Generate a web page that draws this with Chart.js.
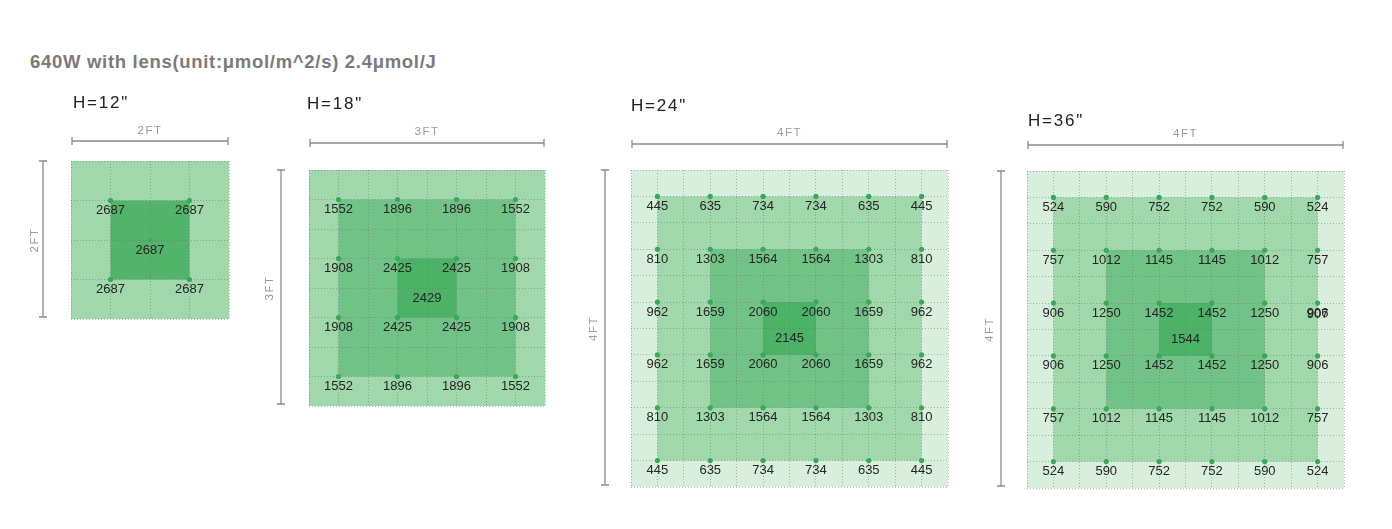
<!DOCTYPE html>
<html>
<head>
<meta charset="utf-8">
<script src="https://cdn.jsdelivr.net/npm/chart.js@4.4.1/dist/chart.umd.min.js"></script>
<style>
  body { margin: 0; width: 1392px; height: 529px; background: #fff; position: relative; overflow: hidden;
         font-family: "Liberation Sans", Arial, sans-serif; }
  #mainTitle { position: absolute; left: 30px; top: 51px; font-size: 18.5px; letter-spacing: 0.7px; font-weight: bold; color: #7a7a7a; white-space: nowrap; }
  .panel { position: absolute; }
</style>
</head>
<body>
<div id="mainTitle">640W with lens(unit:μmol/m^2/s) 2.4μmol/J</div>
<div class="panel" id="w12"><canvas id="c12"></canvas></div>
<div class="panel" id="w18"><canvas id="c18"></canvas></div>
<div class="panel" id="w24"><canvas id="c24"></canvas></div>
<div class="panel" id="w36"><canvas id="c36"></canvas></div>
<script>
// measuring points (grid cell index) and readings per height
const p12Positions = [1, 3];
const p12Values = [
  [2687, 2687],
  [2687, 2687],
];
const p12Center = 2687;

const p18Positions = [1, 3, 5, 7];
const p18Values = [
  [1552, 1896, 1896, 1552],
  [1908, 2425, 2425, 1908],
  [1908, 2425, 2425, 1908],
  [1552, 1896, 1896, 1552],
];
const p18Center = 2429;

const p24Positions = [1, 3, 5, 7, 9, 11];
const p24Values = [
  [445, 635, 734, 734, 635, 445],
  [810, 1303, 1564, 1564, 1303, 810],
  [962, 1659, 2060, 2060, 1659, 962],
  [962, 1659, 2060, 2060, 1659, 962],
  [810, 1303, 1564, 1564, 1303, 810],
  [445, 635, 734, 734, 635, 445],
];
const p24Center = 2145;

const p36Positions = [1, 3, 5, 7, 9, 11];
const p36Values = [
  [524, 590, 752, 752, 590, 524],
  [757, 1012, 1145, 1145, 1012, 757],
  [906, 1250, 1452, 1452, 1250, 906],
  [906, 1250, 1452, 1452, 1250, 906],
  [757, 1012, 1145, 1145, 1012, 757],
  [524, 590, 752, 752, 590, 524],
];
const p36Center = 1544;
const p36Extra = [{ row: 2, col: 5, value: 907 }]; // overlapping label in the source

const panels = [
  { id: '12', title: 'H=12"', span: '2FT', cells: 4, positions: p12Positions, values: p12Values, center: p12Center,
    centerDot: true, extra: [], box: [71, 161, 158],
    colors: ['#a0d7ab', '#52b46b'],
    off: { title: [2, 58], hLine: 20, hText: 30, vLine: 28, vText: 36 } },
  { id: '18', title: 'H=18"', span: '3FT', cells: 8, positions: p18Positions, values: p18Values, center: p18Center,
    centerDot: false, extra: [], box: [309, 170, 236],
    colors: ['#a0d7ab', '#70c286', '#4cb267'],
    off: { title: [-2, 66], hLine: 27, hText: 38, vLine: 28, vText: 39 } },
  { id: '24', title: 'H=24"', span: '4FT', cells: 12, positions: p24Positions, values: p24Values, center: p24Center,
    centerDot: false, extra: [], box: [631, 170, 317],
    colors: ['#d9efdd', '#a0d7ab', '#70c286', '#4cb267'],
    off: { title: [0, 64], hLine: 26, hText: 37, vLine: 26, vText: 37 } },
  { id: '36', title: 'H=36"', span: '4FT', cells: 12, positions: p36Positions, values: p36Values, center: p36Center,
    centerDot: false, extra: p36Extra, box: [1027, 171, 317],
    colors: ['#d9efdd', '#a0d7ab', '#70c286', '#4cb267'],
    off: { title: [1, 50], hLine: 26, hText: 37, vLine: 26, vText: 37 } },
];

const FONT = '"Liberation Sans", Arial, sans-serif';
const PAD_L = 60, PAD_T_ABS = 80, PAD_R = 10, PAD_B = 12;

// fills under the grid, labels and dimension marks on top
const mapPlugin = {
  id: 'ppfdMap',
  beforeDraw(chart) {
    const p = chart.options.plugins.ppfdMap.panel;
    const { ctx } = chart;
    const xs = chart.scales.x, ys = chart.scales.y;
    const n = p.positions.length;
    const layers = [[0, p.cells]];
    for (let k = 0; k < n / 2; k++) layers.push([p.positions[k], p.positions[n - 1 - k]]);
    ctx.save();
    layers.forEach((l, i) => {
      const x0 = xs.getPixelForValue(l[0]), x1 = xs.getPixelForValue(l[1]);
      const y0 = ys.getPixelForValue(l[0]), y1 = ys.getPixelForValue(l[1]);
      ctx.fillStyle = p.colors[i];
      ctx.fillRect(Math.min(x0, x1), Math.min(y0, y1), Math.abs(x1 - x0), Math.abs(y1 - y0));
    });
    ctx.restore();
  },
  afterDatasetsDraw(chart) {
    const p = chart.options.plugins.ppfdMap.panel;
    const { ctx, chartArea: ca } = chart;
    const meta = chart.getDatasetMeta(0);
    ctx.save();
    ctx.font = '13px ' + FONT;
    ctx.fillStyle = '#252525';
    ctx.textAlign = 'center';
    ctx.textBaseline = 'middle';
    meta.data.forEach((pt, i) => {
      const raw = chart.data.datasets[0].data[i];
      ctx.fillText(String(raw.v), pt.x, pt.y + 10);
    });
    const xs = chart.scales.x, ys = chart.scales.y;
    p.extra.forEach(e => {
      ctx.fillText(String(e.value), xs.getPixelForValue(p.positions[e.col]), ys.getPixelForValue(p.positions[e.row]) + 11);
    });
    const mid = p.cells / 2;
    ctx.fillText(String(p.center), xs.getPixelForValue(mid), ys.getPixelForValue(mid) + 10);

    // panel title
    ctx.textAlign = 'left';
    ctx.fillStyle = '#222';
    ctx.font = '17px ' + FONT;
    ctx.letterSpacing = '1.8px';
    ctx.fillText(p.title, ca.left + p.off.title[0], ca.top - p.off.title[1]);

    // dimension lines
    ctx.strokeStyle = '#8a8a8a';
    ctx.lineWidth = 1.3;
    const hy = ca.top - p.off.hLine;
    ctx.beginPath();
    ctx.moveTo(ca.left + 1, hy); ctx.lineTo(ca.right - 1, hy);
    ctx.moveTo(ca.left + 1, hy - 4); ctx.lineTo(ca.left + 1, hy + 4);
    ctx.moveTo(ca.right - 1, hy - 4); ctx.lineTo(ca.right - 1, hy + 4);
    const vx = ca.left - p.off.vLine;
    ctx.moveTo(vx, ca.top); ctx.lineTo(vx, ca.bottom - 2);
    ctx.moveTo(vx - 4, ca.top); ctx.lineTo(vx + 4, ca.top);
    ctx.moveTo(vx - 4, ca.bottom - 2); ctx.lineTo(vx + 4, ca.bottom - 2);
    ctx.stroke();

    ctx.fillStyle = '#9a9a9a';
    ctx.font = '11.5px ' + FONT;
    ctx.letterSpacing = '1.5px';
    ctx.textAlign = 'center';
    ctx.fillText(p.span, (ca.left + ca.right) / 2, ca.top - p.off.hText);
    ctx.save();
    ctx.translate(ca.left - p.off.vText, (ca.top + ca.bottom) / 2);
    ctx.rotate(-Math.PI / 2);
    ctx.fillText(p.span, 0, 0);
    ctx.restore();
    ctx.restore();
  }
};

panels.forEach(p => {
  const [gx, gy, gs] = p.box;
  const padT = gy - PAD_T_ABS;
  const wrap = document.getElementById('w' + p.id);
  const w = gs + PAD_L + PAD_R, h = gs + padT + PAD_B;
  wrap.style.left = (gx - PAD_L) + 'px';
  wrap.style.top = PAD_T_ABS + 'px';
  wrap.style.width = w + 'px';
  wrap.style.height = h + 'px';

  const pts = [];
  p.positions.forEach((ry, r) => {
    p.positions.forEach((cx, c) => {
      pts.push({ x: cx, y: ry, v: p.values[r][c] });
    });
  });
  const dots = p.centerDot ? [{ x: p.cells / 2, y: p.cells / 2 }] : [];

  const axis = (reverse) => ({
    type: 'linear', min: 0, max: p.cells, reverse,
    ticks: { display: false, stepSize: 1 },
    grid: { color: 'rgba(110,110,110,0.5)', lineWidth: 1, drawTicks: false },
    border: { display: false, dash: [1, 2] },
    afterFit: s => { if (s.isHorizontal()) s.height = 0; else s.width = 0; },
  });

  new Chart(document.getElementById('c' + p.id), {
    type: 'scatter',
    data: {
      datasets: [
        { data: pts, pointRadius: 2.6, pointBackgroundColor: '#3aa957', pointBorderWidth: 0 },
        { data: dots, pointRadius: 2, pointBackgroundColor: '#3aa957', pointBorderWidth: 0 },
      ],
    },
    options: {
      responsive: true,
      maintainAspectRatio: false,
      animation: false,
      layout: { padding: { left: PAD_L, top: padT, right: PAD_R, bottom: PAD_B } },
      scales: { x: axis(false), y: axis(true) },
      plugins: {
        legend: { display: false },
        tooltip: { enabled: false },
        ppfdMap: { panel: p },
      },
    },
    plugins: [mapPlugin],
  });
});
</script>
</body>
</html>
